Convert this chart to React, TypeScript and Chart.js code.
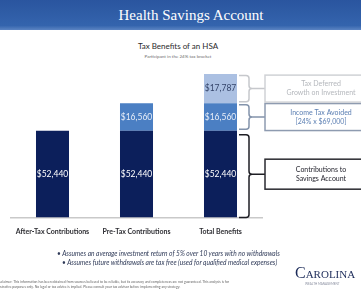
import React, { useEffect, useRef } from "react";
import { Chart, registerables } from "chart.js";

Chart.register(...registerables);

const categories = ["After-Tax Contributions", "Pre-Tax Contributions", "Total Benefits"];
const contributions = [52440, 52440, 52440];
const incomeTaxAvoided = [null, 16560, 16560];
const taxDeferredGrowth = [null, null, 17787];
const seriesNames = ["Contributions to Savings Account", "Income Tax Avoided", "Tax Deferred Growth on Investment"];
const annotationLines = [
  ["Contributions to", "Savings Account"],
  ["Income Tax Avoided", "[24% x $69,000]"],
  ["Tax Deferred", "Growth on Investment"],
];
const bullets = [
  "Assumes an average investment return of 5% over 10 years with no withdrawals",
  "Assumes future withdrawals are tax free (used for qualified medical expenses)",
];
const headerTitle = "Health Savings Account";
const chartTitle = "Tax Benefits of an HSA";
const chartSubtitle = "Participant in the 24% tax bracket";
const disclaimer = [
  "Disclaimer: This information has been obtained from sources believed to be reliable, but its accuracy and completeness are not guaranteed. This analysis is for",
  "illustrative purposes only. No legal or tax advice is implied. Please consult your tax advisor before implementing any strategy.",
];

const barColors = ["#0c1f5b", "#4b7fc3", "#abc0e2"];
const labelColors = ["#ffffff", "#e8eef8", "#34446a"];
const braceColors = ["#1e1e24", "#8393ab", "#c6c8cc"];
const boxTextColors = ["#1e1e28", "#5b7fb3", "#b4b7bc"];
const boxBorderColors = ["#2a2a30", "#8e9bb0", "#d0d2d6"];

const fmt = (v: number) => "$" + v.toLocaleString("en-US");

const valueLabelPlugin = {
  id: "valueLabels",
  afterDatasetsDraw(chart: any) {
    const ctx = chart.ctx;
    ctx.save();
    ctx.font = "8.5px Lato";
    ctx.textAlign = "center";
    ctx.textBaseline = "middle";
    chart.data.datasets.forEach((ds: any, di: number) => {
      const meta = chart.getDatasetMeta(di);
      meta.data.forEach((el: any, i: number) => {
        const v = ds.data[i];
        if (v == null) return;
        ctx.fillStyle = labelColors[di];
        ctx.fillText(fmt(v), el.x, (el.y + el.base) / 2);
      });
    });
    ctx.restore();
  },
};

const bracePlugin = {
  id: "braces",
  afterDraw(chart: any) {
    const ctx = chart.ctx;
    const last = categories.length - 1;
    chart.data.datasets.forEach((ds: any, di: number) => {
      const el = chart.getDatasetMeta(di).data[last];
      if (!el || ds.data[last] == null) return;
      const right = el.x + el.width / 2;
      const xL = right + 2;
      const xS = right + 12;
      const xT = right + 28;
      const gap = di === 0 ? 4 : 1.5;
      const yTop = el.y + gap;
      const yBot = el.base - (di === 0 ? 0 : 1.5);
      const yMid = (el.y + el.base) / 2;
      const r = 3;
      ctx.save();
      ctx.strokeStyle = braceColors[di];
      ctx.lineWidth = 1.5;
      ctx.beginPath();
      ctx.moveTo(xL, yTop);
      ctx.lineTo(xS - r, yTop);
      ctx.quadraticCurveTo(xS, yTop, xS, yTop + r);
      ctx.lineTo(xS, yMid - r);
      ctx.quadraticCurveTo(xS, yMid, xS + r, yMid);
      ctx.lineTo(xT, yMid);
      ctx.moveTo(xS + r, yMid);
      ctx.quadraticCurveTo(xS, yMid, xS, yMid + r);
      ctx.lineTo(xS, yBot - r);
      ctx.quadraticCurveTo(xS, yBot, xS - r, yBot);
      ctx.lineTo(xL, yBot);
      ctx.stroke();
      const bh = di === 0 ? 30 : 27;
      const bx = xT;
      const by = yMid - bh / 2;
      ctx.strokeStyle = boxBorderColors[di];
      ctx.lineWidth = 1.5;
      ctx.strokeRect(bx, by, 110, bh);
      ctx.fillStyle = boxTextColors[di];
      ctx.font = "7px Lato";
      ctx.textAlign = "center";
      ctx.textBaseline = "middle";
      const lines = annotationLines[di];
      const cx = bx + 56;
      ctx.fillText(lines[0], cx, yMid - 4.5);
      ctx.fillText(lines[1], cx, yMid + 4.5);
      ctx.restore();
    });
  },
};

function ChartCanvas() {
  const ref = useRef<HTMLCanvasElement | null>(null);
  useEffect(() => {
    if (!ref.current) return;
    const chart = new Chart(ref.current, {
      type: "bar",
      data: {
        labels: categories,
        datasets: [
          { label: seriesNames[0], data: contributions, backgroundColor: barColors[0] },
          { label: seriesNames[1], data: incomeTaxAvoided as any, backgroundColor: barColors[1] },
          { label: seriesNames[2], data: taxDeferredGrowth as any, backgroundColor: barColors[2] },
        ],
      },
      options: {
        responsive: false,
        animation: false,
        devicePixelRatio: 1,
        layout: { padding: { left: 10.5, right: 98.5, top: 52, bottom: 54 } },
        datasets: { bar: { barPercentage: 0.393, categoryPercentage: 1 } },
        plugins: { legend: { display: false }, tooltip: { enabled: false }, title: { display: false } },
        scales: {
          x: {
            stacked: true,
            grid: { display: false, drawTicks: false },
            border: { display: true, color: "#c9c9c9", width: 1.5 },
            ticks: { color: "#2e2e33", font: { family: "Lato", size: 7, weight: "bold" }, padding: 10, maxRotation: 0, autoSkip: false },
          },
          y: { stacked: true, display: false, min: 0, max: 100000 },
        },
      },
      plugins: [valueLabelPlugin, bracePlugin],
    });
    return () => chart.destroy();
  }, []);
  return <canvas ref={ref} width={361} height={300} style={{ position: "absolute", left: 0, top: 0, width: 361, height: 300 }} />;
}

export default function App() {
  return (
    <div style={{ position: "fixed", left: 0, top: 0, width: 361, height: 300, overflow: "hidden", background: "#ffffff" }}>
      <div
        style={{
          position: "absolute", left: 0, top: 0, width: 361, height: 30,
          background: "linear-gradient(#2a559f, #3464ad 85%, #5b84c2)",
          color: "#ffffff", fontFamily: "Liberation Serif", fontSize: 15,
        }}
      >
        <div style={{ position: "absolute", left: 0, width: 382, top: 6, textAlign: "center", lineHeight: "18px" }}>{headerTitle}</div>
      </div>
      <div style={{ position: "absolute", left: 0, width: 356, top: 41, textAlign: "center", fontFamily: "Lato", fontSize: 8, color: "#2b2b2b", lineHeight: "10px" }}>{chartTitle}</div>
      <div style={{ position: "absolute", left: 0, width: 356, top: 54, textAlign: "center", fontFamily: "Lato", fontSize: 4.5, color: "#707070", lineHeight: "6px" }}>{chartSubtitle}</div>
      <ChartCanvas />
      <div style={{ position: "absolute", left: 57, top: 249, fontFamily: "Lato", fontStyle: "italic", fontSize: 6.6, color: "#2f3a58", lineHeight: "9px", whiteSpace: "nowrap" }}>
        {bullets.map((b, i) => (
          <div key={i} style={{ paddingLeft: i === 0 ? 0 : 5 }}>{"\u2022  " + b}</div>
        ))}
      </div>
      <div style={{ position: "absolute", left: -4, top: 280, fontFamily: "Lato", fontSize: 3.4, color: "#666", lineHeight: "5px", whiteSpace: "nowrap" }}>
        {disclaimer.map((d, i) => (
          <div key={i}>{d}</div>
        ))}
      </div>
      <div style={{ position: "absolute", left: 295, top: 264, fontFamily: "Liberation Serif", color: "#1d2c5a", whiteSpace: "nowrap" }}>
        <span style={{ fontSize: 16, lineHeight: "16px" }}>C</span>
        <span style={{ fontSize: 11, lineHeight: "16px" }}>AROLINA</span>
        <div style={{ fontFamily: "Lato", fontSize: 3, color: "#8a8fa0", marginLeft: 10, lineHeight: "4px" }}>WEALTH MANAGEMENT</div>
      </div>
    </div>
  );
}
